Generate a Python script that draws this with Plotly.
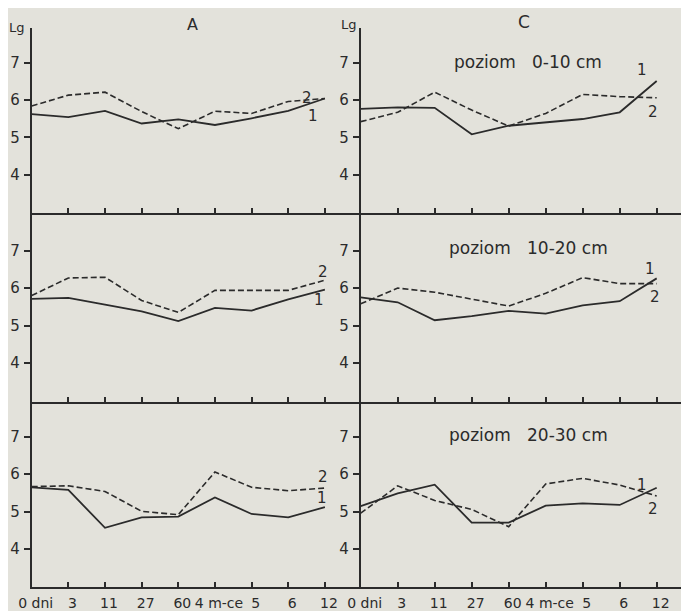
import plotly.graph_objects as go

# ---- data ----
x_cats = list(range(9))
x_labels = ["0 dni", "3", "11", "27", "60", "4 m-ce", "5", "6", "12"]
y_ticks = [4, 5, 6, 7]
y_tick_labels = ["4", "5", "6", "7"]

A_0_10_s1 = [5.62, 5.54, 5.71, 5.37, 5.48, 5.33, 5.51, 5.71, 6.04]
A_0_10_s2 = [5.84, 6.13, 6.21, 5.69, 5.23, 5.70, 5.64, 5.96, 6.04]
C_0_10_s1 = [5.76, 5.80, 5.79, 5.08, 5.31, 5.39, 5.49, 5.67, 6.51]
C_0_10_s2 = [5.42, 5.67, 6.21, 5.73, 5.30, 5.64, 6.15, 6.09, 6.06]
A_10_20_s1 = [5.71, 5.74, 5.56, 5.38, 5.12, 5.47, 5.40, 5.70, 5.96]
A_10_20_s2 = [5.80, 6.27, 6.29, 5.67, 5.35, 5.94, 5.94, 5.94, 6.21]
C_10_20_s1 = [5.75, 5.62, 5.14, 5.25, 5.39, 5.32, 5.54, 5.65, 6.26]
C_10_20_s2 = [5.58, 6.00, 5.89, 5.71, 5.52, 5.86, 6.28, 6.12, 6.12]
A_20_30_s1 = [5.65, 5.58, 4.57, 4.85, 4.87, 5.38, 4.94, 4.85, 5.12]
A_20_30_s2 = [5.67, 5.69, 5.54, 5.01, 4.92, 6.06, 5.65, 5.56, 5.63]
C_20_30_s1 = [5.15, 5.49, 5.72, 4.71, 4.71, 5.16, 5.22, 5.18, 5.64]
C_20_30_s2 = [4.96, 5.69, 5.30, 5.06, 4.60, 5.74, 5.89, 5.71, 5.42]

panel_titles = ["A", "C"]
level_titles = ["poziom\u00a0\u00a0\u00a00-10 cm", "poziom\u00a0\u00a0\u00a010-20 cm", "poziom\u00a0\u00a0\u00a020-30 cm"]
series_names = ["1", "2"]

panels = [
    [(A_0_10_s1, A_0_10_s2), (C_0_10_s1, C_0_10_s2)],
    [(A_10_20_s1, A_10_20_s2), (C_10_20_s1, C_10_20_s2)],
    [(A_20_30_s1, A_20_30_s2), (C_20_30_s1, C_20_30_s2)],
]

# ---- layout geometry (window pixels; page body has an 8px margin) ----
OFF = 8
W, H = 689 - OFF, 611 - OFF
BG = "#e3e2db"
INK = "#2b2b2b"
FONT = "DejaVu Sans"


def px(v):
    return v - OFF


col_px = [(31.7, 360.7), (360.7, 689.0)]
col_step = [36.65, 37.0]
row_px = [(28, 213), (213, 402), (402, 587)]
row_y7 = [62.7, 250.7, 436.7]
row_unit = [37.3, 37.4, 37.5]

# label offsets (px) relative to last point of each series: (dx, dy) for s1, s2
label_off = [
    [((-12, 17), (-18, -1)), ((-15, -11), (-4, 14))],
    [((-6, 10), (-2, -8)), ((-7, -9), (-2, 13))],
    [((-3, -9), (-2, -11)), ((-15, -3), (-4, 13))],
]

fig = go.Figure()
layout = dict(
    width=W, height=H,
    margin=dict(l=0, r=0, t=0, b=0, pad=0),
    paper_bgcolor=BG, plot_bgcolor=BG,
    showlegend=False,
    font=dict(family=FONT, color=INK, size=14),
)
annotations = []

for r in range(3):
    for c in range(2):
        n = r * 2 + c + 1
        xa = "x" if n == 1 else f"x{n}"
        ya = "y" if n == 1 else f"y{n}"
        s1, s2 = panels[r][c]
        fig.add_trace(go.Scatter(x=x_cats, y=s1, mode="lines", xaxis=xa, yaxis=ya,
                                 line=dict(color=INK, width=1.8)))
        fig.add_trace(go.Scatter(x=x_cats, y=s2, mode="lines", xaxis=xa, yaxis=ya,
                                 line=dict(color=INK, width=1.6, dash="6px,3px")))
        x0, x1 = col_px[c]
        y0, y1 = row_px[r]
        xr = (x1 - x0) / col_step[c]
        ytop = 7 + (row_y7[r] - y0) / row_unit[r]
        ybot = 7 - (y1 - row_y7[r]) / row_unit[r]
        xkey = "xaxis" if n == 1 else f"xaxis{n}"
        ykey = "yaxis" if n == 1 else f"yaxis{n}"
        layout[xkey] = dict(
            domain=[px(x0) / W, min(px(x1) / W, 1.0)], range=[0, xr], anchor=ya,
            showgrid=False, zeroline=False, showline=True, linecolor=INK, linewidth=1.6,
            tickmode="array", tickvals=x_cats,
            ticktext=x_labels if r == 2 else [""] * 9,
            showticklabels=(r == 2),
            ticks="inside", ticklen=5, tickwidth=1.5, tickcolor=INK,
            tickfont=dict(size=14, family=FONT, color=INK),
            tickangle=0, ticklabelshift=4, ticklabelstandoff=2,
            automargin=False, fixedrange=True,
        )
        layout[ykey] = dict(
            domain=[1 - px(y1) / H, 1 - px(y0) / H], range=[ybot, ytop], anchor=xa,
            showgrid=False, zeroline=False, showline=True, linecolor=INK, linewidth=1.6,
            tickmode="array", tickvals=y_ticks, ticktext=y_tick_labels,
            ticks="outside", ticklen=6, tickwidth=1.5, tickcolor=INK,
            tickfont=dict(size=15, family=FONT, color=INK),
            ticklabelstandoff=1,
            automargin=False, fixedrange=True,
        )
        for k, s in enumerate((s1, s2)):
            dx, dy = label_off[r][c][k]
            annotations.append(dict(
                x=x_cats[-1], y=s[-1], xref=xa, yref=ya, text=series_names[k],
                showarrow=False, xshift=dx, yshift=-dy, xanchor="center", yanchor="middle",
                font=dict(size=15, family=FONT, color=INK),
            ))


def paper_text(x, y, text, size):
    annotations.append(dict(x=px(x) / W, y=1 - px(y) / H, xref="paper", yref="paper", text=text,
                            showarrow=False, xanchor="center", yanchor="middle",
                            font=dict(size=size, family=FONT, color=INK)))


paper_text(192, 25, panel_titles[0], 16)
paper_text(524, 22, panel_titles[1], 17)
for r, yy in enumerate([62, 248, 435]):
    paper_text(528, yy, level_titles[r], 17)
paper_text(17, 28, "Lg", 13)
paper_text(349, 25, "Lg", 13)

layout["annotations"] = annotations
fig.update_layout(**layout)
fig.write_html("out.html")
